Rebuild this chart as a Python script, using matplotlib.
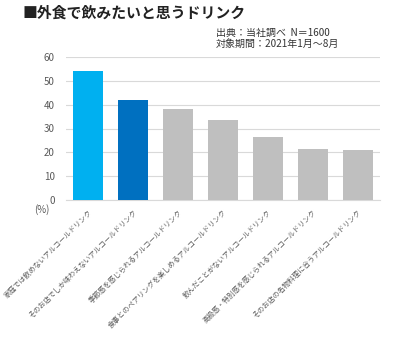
import matplotlib.pyplot as plt

plt.rcParams['font.family'] = ['Noto Sans CJK JP', 'DejaVu Sans']

# Datos
categorias = [
    '家庭では飲めないアルコールドリンク',
    'そのお店でしか味わえないアルコールドリンク',
    '季節感を感じられるアルコールドリンク',
    '食事とのペアリングを楽しめるアルコールドリンク',
    '飲んだことがないアルコールドリンク',
    '高級感・特別感を感じられるアルコールドリンク',
    'そのお店の名物料理に合うアルコールドリンク',
]
valores = [54, 42, 38, 33.5, 26.5, 21.5, 21]
colores = ['#00B0F0', '#0070C0'] + ['#BFBFBF'] * 5
ticks_y = [0, 10, 20, 30, 40, 50, 60]

fig = plt.figure(figsize=(4.04, 3.38), dpi=100)
ax = fig.add_axes([66 / 404, 1 - 200 / 338, (380 - 66) / 404, (200 - 57) / 338])

x = range(len(valores))
ax.bar(x, valores, width=0.67, color=colores, zorder=3)
ax.set_xlim(-0.5, 6.5)
ax.set_ylim(0, 60)
ax.set_yticks(ticks_y)
ax.yaxis.grid(True, color='#D9D9D9', linewidth=0.8, zorder=0)
for lado in ['top', 'right', 'left']:
    ax.spines[lado].set_visible(False)
ax.spines['bottom'].set_color('#D9D9D9')
ax.tick_params(axis='y', length=0, labelsize=7, labelcolor='#595959', pad=8)
ax.tick_params(axis='x', length=0, pad=6)
ax.set_xticks(list(x))
ax.set_xticklabels(categorias, rotation=45, ha='right', rotation_mode='anchor',
                   fontsize=5.1, color='#595959')

fig.text(42 / 404, 1 - 210 / 338, '(%)', fontsize=7, color='#595959',
         ha='center', va='center')
fig.text(22 / 404, 1 - 13 / 338, '■外食で飲みたいと思うドリンク', fontsize=10.7,
         fontweight='bold', ha='left', va='center', color='#222222')
fig.text(216 / 404, 1 - 33 / 338, '出典：当社調べ  N＝1600', fontsize=7.2,
         ha='left', va='center', color='#333333')
fig.text(216 / 404, 1 - 44 / 338, '対象期間：2021年1月～8月', fontsize=7.2,
         ha='left', va='center', color='#333333')

fig.savefig('out.png', dpi=100, facecolor='white')
